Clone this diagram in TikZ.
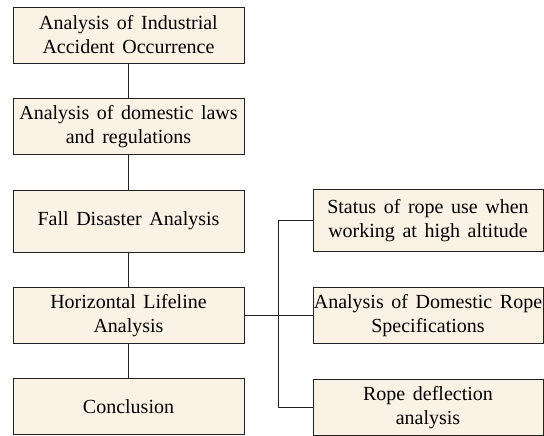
\documentclass[tikz,border=0pt]{standalone}
\usepackage{fontspec}
\setmainfont{Liberation Serif}
\usetikzlibrary{positioning}

\definecolor{boxfill}{HTML}{FBF2E6}
\definecolor{boxline}{HTML}{222222}
\newcommand\boxfont{\fontsize{20}{24}\selectfont\spaceskip=0.38em plus 0.1em\relax}

\begin{document}
\begin{tikzpicture}[x=1pt,y=-1pt]
	\useasboundingbox (0,0) rectangle (544,436);
	\begin{scope}[every node/.style={draw=boxline, fill=boxfill, line width=0.8pt,
	              align=center, inner sep=0pt, font=\boxfont}]
		\node[minimum width=231pt, minimum height=56pt] (occur) at (128.5,35) {Analysis of Industrial\\Accident Occurrence};
		\node[minimum width=231pt, minimum height=56pt] (laws) at (128.5,126.5) {Analysis of domestic laws\\and regulations};
		\node[minimum width=231pt, minimum height=62pt] (fall) at (128.5,221) {Fall Disaster Analysis};
		\node[minimum width=231pt, minimum height=56pt] (lifeline) at (128.5,315.5) {Horizontal Lifeline\\Analysis};
		\node[minimum width=231pt, minimum height=56pt] (concl) at (128.5,406.5) {Conclusion};

		\node[minimum width=230pt, minimum height=62pt] (status) at (428,220.5) {Status of rope use when\\working at high altitude};
		\node[minimum width=230pt, minimum height=56pt] (spec) at (428,315.5) {Analysis of Domestic Rope\\Specifications};
		\node[minimum width=230pt, minimum height=56pt] (deflect) at (428,407.5) {Rope deflection\\analysis};
	\end{scope}

	\coordinate (split) at (278,315.5);

	\begin{scope}[draw=boxline, line width=0.8pt]
		\draw (occur) -- (laws);
		\draw (laws) -- (fall);
		\draw (fall) -- (lifeline);
		\draw (lifeline) -- (concl);
		\draw (lifeline) -- (spec);
		\draw (split) |- (status);
		\draw (split) |- (deflect);
	\end{scope}
\end{tikzpicture}
\end{document}
